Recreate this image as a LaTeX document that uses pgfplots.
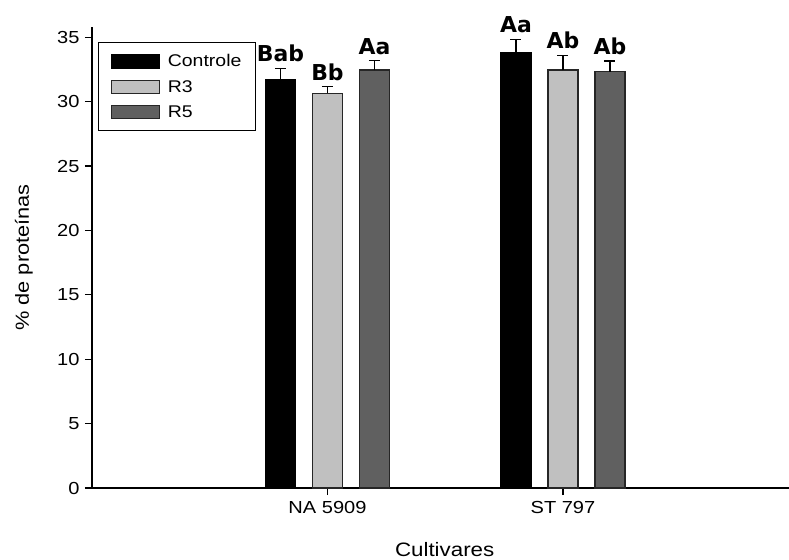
\documentclass[border=0pt]{standalone}
\usepackage{pgfplots}
\usepackage{pgfplotstable}
\pgfplotsset{compat=1.18}
\usepackage{fontspec}
\setmainfont{Liberation Sans}[FakeStretch=1.15]
\newfontfamily\letfont{DejaVu Sans}

% x = category, y = mean, err = upper error, lx/ly = letter position, lab = letters
\pgfplotstableread{
x y err lx ly lab
1 31.73 0.85 0.8004 32.58 Bab
2 33.80 1.04 1.8004 34.84 Aa
}\ctrl
\pgfplotstableread{
x y err lx ly lab
1 30.64 0.52 1.0 31.16 Bb
2 32.46 1.14 2.0 33.60 Ab
}\rtres
\pgfplotstableread{
x y err lx ly lab
1 32.46 0.73 1.1996 33.19 Aa
2 32.33 0.83 2.1996 33.16 Ab
}\rcinco

\definecolor{lgray}{RGB}{192,192,192}
\definecolor{dgray}{RGB}{96,96,96}

\begin{document}
\begin{tikzpicture}
\begin{axis}[
  at={(0,0)}, anchor=south west,
  scale only axis, width=697bp, height=461bp,
  xmin=0, xmax=2.96, ymin=0, ymax=35.8,
  ybar, bar width=30bp,
  axis x line=bottom, axis y line=left,
  axis line style={-, line width=1.3bp, black},
  xtick={1,2}, xticklabels={NA 5909, ST 797},
  ytick={0,5,...,35},
  tick align=outside, major tick length=7bp,
  tick style={line width=1.3bp, black},
  /pgf/number format/assume math mode=true,
  ticklabel style={font=\fontsize{17.5}{20}\selectfont},
  yticklabel style={xshift=-2bp},
  xticklabel style={yshift=-3bp},
  xlabel={Cultivares}, ylabel={\% de proteínas},
  every axis x label/.style={at={(axis description cs:0.506,-0.1345)}, anchor=center, font=\fontsize{19.5}{22}\selectfont},
  every axis y label/.style={at={(axis description cs:-0.0976,0.5)}, anchor=center, rotate=90, font=\fontsize{19}{21}\selectfont},
  legend style={at={(axis description cs:0,1)}, anchor=north west, xshift=6bp, yshift=-15bp,
    draw=black, line width=1.3bp, fill=white, inner xsep=12bp, inner ysep=10bp, row sep=8bp,
    font=\fontsize{17}{20}\selectfont,
    /tikz/every odd column/.append style={column sep=6bp}},
  legend cell align=left,
  error bars/error bar style={line width=1.4bp, black},
  error bars/error mark options={line width=1.4bp, mark size=5.5bp, black, rotate=90},
]
\addplot[bar shift=-47bp, fill=black, draw=black, line width=1.2bp,
  legend image code/.code={\draw[fill=black,draw=black,line width=1.2bp] (0bp,-6.5bp) rectangle (48bp,6.5bp);},
  error bars/.cd, y dir=plus, y explicit]
  table[x=x, y=y, y error=err] {\ctrl};
\addlegendentry{Controle}
\addplot[bar shift=0bp, fill=lgray, draw=black!85, line width=1.2bp,
  legend image code/.code={\draw[fill=lgray,draw=black!85,line width=1.2bp] (0bp,-6.5bp) rectangle (48bp,6.5bp);},
  error bars/.cd, y dir=plus, y explicit]
  table[x=x, y=y, y error=err] {\rtres};
\addlegendentry{R3}
\addplot[bar shift=47bp, fill=dgray, draw=black!85, line width=1.2bp,
  legend image code/.code={\draw[fill=dgray,draw=black!85,line width=1.2bp] (0bp,-6.5bp) rectangle (48bp,6.5bp);},
  error bars/.cd, y dir=plus, y explicit]
  table[x=x, y=y, y error=err] {\rcinco};
\addlegendentry{R5}
\pgfplotsset{lettstyle/.style={sharp plot, draw=none, mark=none, forget plot, bar shift=0pt,
  nodes near coords, point meta=explicit symbolic,
  every node near coord/.append style={font=\letfont\bfseries\fontsize{22}{25}\selectfont,
    anchor=south, inner sep=0pt, text=black, yshift=6bp}}}
\addplot[lettstyle] table[x=lx, y=ly, meta=lab] {\ctrl};
\addplot[lettstyle] table[x=lx, y=ly, meta=lab] {\rtres};
\addplot[lettstyle] table[x=lx, y=ly, meta=lab] {\rcinco};
\end{axis}
\pgfresetboundingbox
\path[use as bounding box] (-92bp,-72bp) rectangle (697bp,488bp);
\end{tikzpicture}
\end{document}
